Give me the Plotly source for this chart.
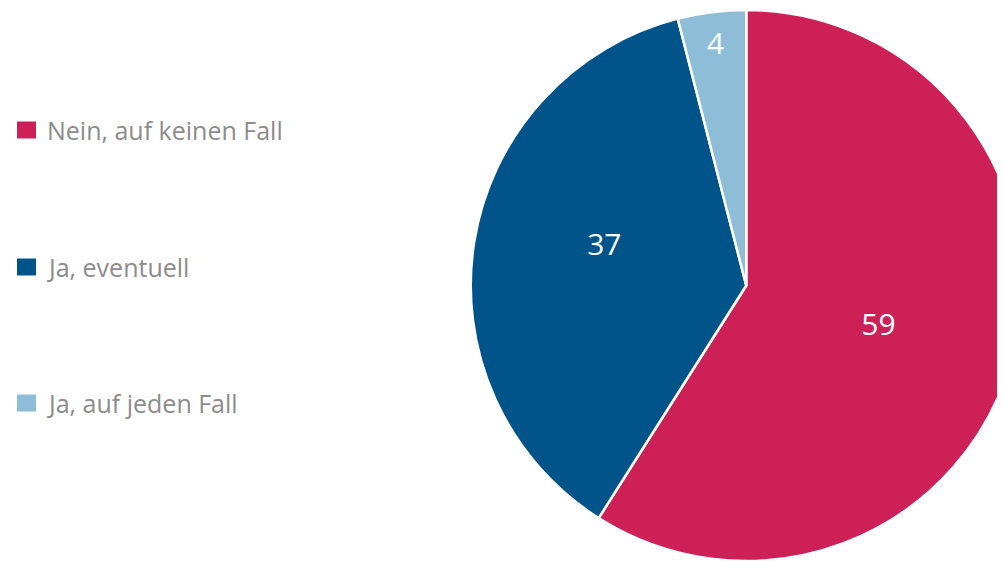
import plotly.graph_objects as go

# Umfrage-Ergebnis (Prozent)
labels = ['Nein, auf keinen Fall', 'Ja, eventuell', 'Ja, auf jeden Fall']
values = [59, 37, 4]
colors = ['#CC2056', '#00548A', '#8DBDD7']
# the 37 label sits a little higher in the original
text_templates = ['%{value}', '%{value}<br> ', '%{value}']

# page body has an 8px margin, so the figure is laid out relative to that
W, H = 1014, 553
FONT = 'Open Sans, Noto Sans, sans-serif'
legend_rows_px = [122, 259, 395]  # vertical centres of the legend rows (in figure px)

fig = go.Figure()

fig.add_trace(go.Pie(
    labels=labels,
    values=values,
    sort=False,
    direction='clockwise',
    rotation=0,
    texttemplate=text_templates,
    textposition='inside',
    insidetextorientation='horizontal',
    textfont=dict(color='#ffffff', size=30, family=FONT),
    marker=dict(colors=colors, line=dict(color='#ffffff', width=2.5)),
    domain=dict(x=[462.5 / W, 1], y=[0, 1]),
    showlegend=False,
    hoverinfo='label+value',
))

# Legend drawn as shapes + annotations to get the wide row spacing
top = 2
plot_h = H - top
for lab, col, ypx in zip(labels, colors, legend_rows_px):
    yp = (H - ypx) / plot_h
    fig.add_shape(type='rect', xref='paper', yref='paper',
                  x0=9 / W, x1=28 / W,
                  y0=yp - 8.5 / plot_h, y1=yp + 8.5 / plot_h,
                  fillcolor=col, line=dict(width=0))
    fig.add_annotation(x=37 / W, y=yp, xref='paper', yref='paper',
                       text=lab, showarrow=False, xanchor='left', yanchor='middle',
                       font=dict(size=25, color='#8C8C8C', family=FONT))

fig.update_layout(
    width=W,
    height=H,
    margin=dict(l=0, r=0, t=top, b=0),
    paper_bgcolor='#ffffff',
    plot_bgcolor='#ffffff',
)

fig.write_html("out.html")
